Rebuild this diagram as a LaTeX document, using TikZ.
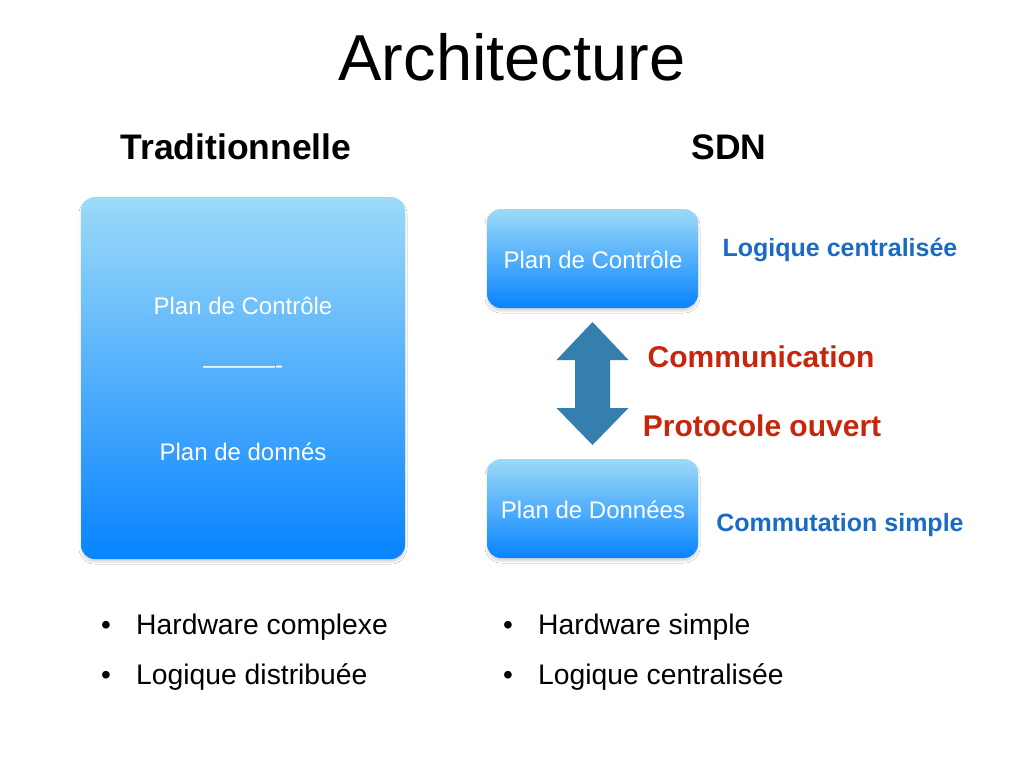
\documentclass[tikz,border=0pt]{standalone}
\usepackage{fontspec}
\setmainfont{Liberation Sans}
\usetikzlibrary{shadows.blur,calc}
\definecolor{boxtop}{RGB}{156,218,248}
\definecolor{boxbot}{RGB}{8,132,255}
\definecolor{bluetxt}{RGB}{26,107,196}
\definecolor{redtxt}{RGB}{200,38,12}
\definecolor{arrowc}{RGB}{53,127,174}
\tikzset{
  planbox/.style={draw=none, rectangle, rounded corners=14pt, top color=boxtop, bottom color=boxbot,
    blur shadow={shadow blur steps=5, shadow blur radius=2pt, shadow xshift=0pt, shadow yshift=-3pt, shadow opacity=16}},
  boxtxt/.style={anchor=base, text=white, font=\fontsize{24}{28}\selectfont, inner sep=0pt},
  heading/.style={anchor=base, font=\fontsize{35.5}{40}\selectfont\bfseries, inner sep=0pt},
  bluelbl/.style={anchor=base, text=bluetxt, font=\fontsize{25}{29}\selectfont\bfseries, inner sep=0pt},
  redlbl/.style={anchor=base, text=redtxt, font=\fontsize{30}{34}\selectfont\bfseries, inner sep=0pt},
  bullettxt/.style={anchor=base west, font=\fontsize{28.3}{32}\selectfont, inner sep=0pt},
  bulletdot/.style={anchor=base, font=\fontsize{28}{32}\selectfont, inner sep=0pt},
}
\begin{document}
\begin{tikzpicture}[x=1pt,y=-1pt]
\useasboundingbox (0,0) rectangle (1024,768);
\fill[white] (0,0) rectangle (1024,768);
% title
\node[anchor=base, font=\fontsize{65}{72}\selectfont, inner sep=0pt] (title) at (512,81) {Architecture};
\node[heading] (trad) at (236,159) {Traditionnelle};
\node[heading] (sdn) at (729,159) {SDN};
% left box
\node[planbox, minimum width=324pt, minimum height=362pt] (left) at (243,378) {};
\node[boxtxt] (lctrl) at (243,314) {Plan de Contrôle};
\node[boxtxt] (lsep) at (243,373) {———-};
\node[boxtxt] (ldata) at (243,460) {Plan de donnés};
% right boxes
\node[planbox, minimum width=211pt, minimum height=99pt] (ctrl) at (592.5,258.5) {};
\node[planbox, minimum width=211pt, minimum height=99pt] (data) at (592.5,508.5) {};
\node[boxtxt] (ctrltxt) at (593,268) {Plan de Contrôle};
\node[boxtxt] (datatxt) at (593,518) {Plan de Données};
% arrow
\coordinate (mid) at ($(ctrl.south)!0.5!(data.north)$);
\fill[arrowc] ($(mid)+(0,-61.5)$) -- ($(mid)+(36,-23.5)$) -- ($(mid)+(17.5,-23.5)$) -- ($(mid)+(17.5,24.5)$)
  -- ($(mid)+(36,24.5)$) -- ($(mid)+(0,61.5)$) -- ($(mid)+(-36,24.5)$) -- ($(mid)+(-17.5,24.5)$)
  -- ($(mid)+(-17.5,-23.5)$) -- ($(mid)+(-36,-23.5)$) -- cycle;
% labels
\node[bluelbl] (logc) at (840,256) {Logique centralisée};
\node[bluelbl] (comm) at (840,531) {Commutation simple};
\node[redlbl] (commu) at (761,367) {Communication};
\node[redlbl] (proto) at (762,436) {Protocole ouvert};
% bullets
\node[bulletdot] (b1) at (106,634) {•};
\node[bullettxt] (t1) at (136,634) {Hardware complexe};
\node[bulletdot] (b2) at (106,684) {•};
\node[bullettxt] (t2) at (136,684) {Logique distribuée};
\node[bulletdot] (b3) at (508,634) {•};
\node[bullettxt] (t3) at (538,634) {Hardware simple};
\node[bulletdot] (b4) at (508,684) {•};
\node[bullettxt] (t4) at (538,684) {Logique centralisée};
\end{tikzpicture}
\end{document}
